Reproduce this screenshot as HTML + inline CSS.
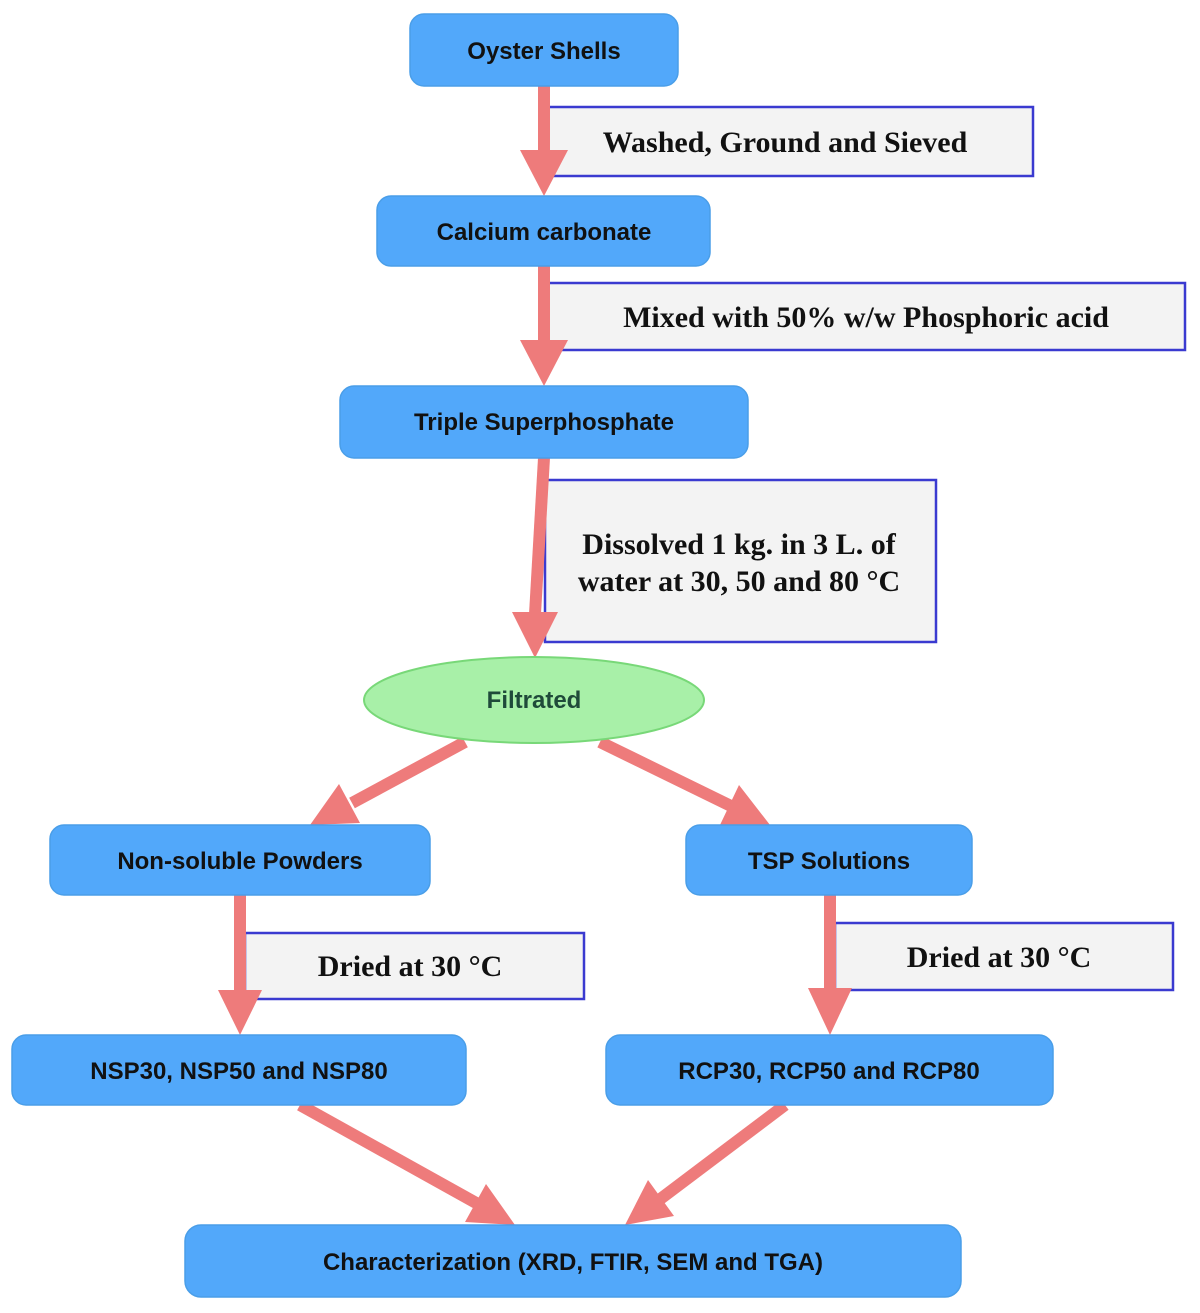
<!DOCTYPE html>
<html><head><meta charset="utf-8"><style>
html,body{margin:0;padding:0;background:#fff;}
svg{display:block;}
.n{fill:#52a8fa;stroke:#4a9ee8;stroke-width:1.5;}
.t{font-family:"Liberation Sans",sans-serif;font-weight:bold;font-size:24px;fill:#111;text-anchor:middle;}
.l{fill:#f3f3f3;stroke:#3a3ad0;stroke-width:2.5;}
.s{font-family:"Liberation Serif",serif;font-weight:bold;font-size:30px;fill:#111;text-anchor:middle;}
.a{fill:#ee7b7b;}
.al{stroke:#ee7b7b;stroke-width:12;}
</style></head><body>
<svg width="1200" height="1313" viewBox="0 0 1200 1313" xmlns="http://www.w3.org/2000/svg">
<!-- label boxes -->
<rect class="l" x="548" y="107" width="485" height="69"/>
<text class="s" x="785" y="152">Washed, Ground and Sieved</text>
<rect class="l" x="548" y="283" width="637" height="67"/>
<text class="s" x="866" y="327">Mixed with 50% w/w Phosphoric acid</text>
<rect class="l" x="545" y="480" width="391" height="162"/>
<text class="s" x="739" y="554">Dissolved 1 kg. in 3 L. of</text>
<text class="s" x="739" y="591">water at 30, 50 and 80 °C</text>
<rect class="l" x="245" y="933" width="339" height="66"/>
<text class="s" x="410" y="976">Dried at 30 °C</text>
<rect class="l" x="835" y="923" width="338" height="67"/>
<text class="s" x="999" y="967">Dried at 30 °C</text>
<!-- arrows -->
<rect class="a" x="538" y="86" width="12" height="66"/>
<polygon class="a" points="520,150 568,150 544,196"/>
<rect class="a" x="538" y="266" width="12" height="76"/>
<polygon class="a" points="520,340 568,340 544,386"/>
<polygon class="a" points="538,458 550,458 541,614 529,614"/>
<polygon class="a" points="512,612 558,612 535,658"/>
<rect class="a" x="234" y="895" width="12" height="97"/>
<polygon class="a" points="218,990 262,990 240,1035"/>
<rect class="a" x="824" y="895" width="12" height="95"/>
<polygon class="a" points="808,988 852,988 830,1035"/>
<line class="al" x1="465" y1="742" x2="352" y2="803"/>
<polygon class="a" points="339,784 360,823 310,825"/>
<line class="al" x1="600" y1="742" x2="731" y2="806"/>
<polygon class="a" points="739,785 720,825 770,825"/>
<line class="al" x1="300" y1="1105" x2="478" y2="1204"/>
<polygon class="a" points="486,1184 465,1222 515,1225"/>
<line class="al" x1="785" y1="1105" x2="659" y2="1200"/>
<polygon class="a" points="648,1180 674,1216 625,1225"/>
<!-- nodes -->
<rect class="n" x="410" y="14" width="268" height="72" rx="14"/>
<text class="t" x="544" y="59">Oyster Shells</text>
<rect class="n" x="377" y="196" width="333" height="70" rx="14"/>
<text class="t" x="544" y="240">Calcium carbonate</text>
<rect class="n" x="340" y="386" width="408" height="72" rx="14"/>
<text class="t" x="544" y="430">Triple Superphosphate</text>
<ellipse cx="534" cy="700" rx="170" ry="43" fill="#a8f0a8" stroke="#78d878" stroke-width="2"/>
<text class="t" x="534" y="708" style="fill:#1f4a3a">Filtrated</text>
<rect class="n" x="50" y="825" width="380" height="70" rx="14"/>
<text class="t" x="240" y="869">Non-soluble Powders</text>
<rect class="n" x="686" y="825" width="286" height="70" rx="14"/>
<text class="t" x="829" y="869">TSP Solutions</text>
<rect class="n" x="12" y="1035" width="454" height="70" rx="14"/>
<text class="t" x="239" y="1079">NSP30, NSP50 and NSP80</text>
<rect class="n" x="606" y="1035" width="447" height="70" rx="14"/>
<text class="t" x="829" y="1079">RCP30, RCP50 and RCP80</text>
<rect class="n" x="185" y="1225" width="776" height="72" rx="16"/>
<text class="t" x="573" y="1270">Characterization (XRD, FTIR, SEM and TGA)</text>
</svg>
</body></html>
